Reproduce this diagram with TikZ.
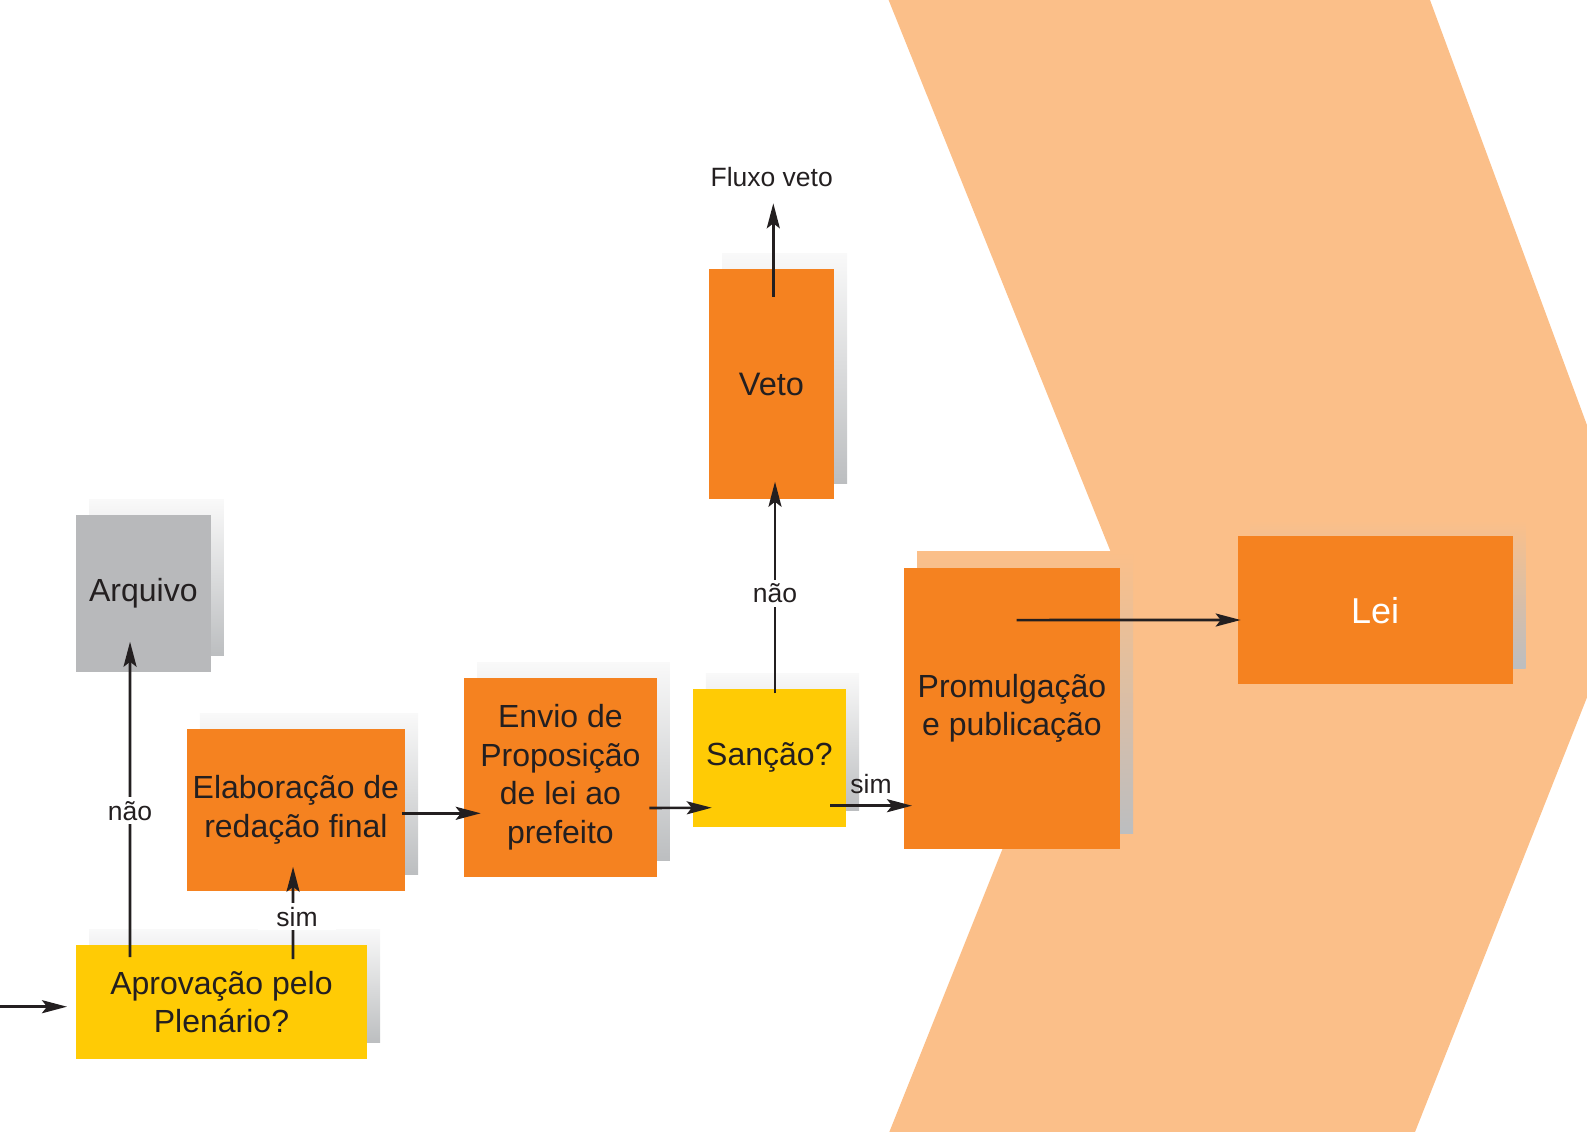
\documentclass[tikz,border=0pt]{standalone}
\usepackage{fontspec}
\setmainfont{Liberation Sans}
\usetikzlibrary{arrows.meta,shadows}
\definecolor{laranja}{RGB}{245,130,32}
\definecolor{amarelo}{RGB}{255,203,5}
\definecolor{cinza}{RGB}{184,185,187}
\definecolor{pessego}{RGB}{251,191,137}
\definecolor{texto}{RGB}{35,31,32}
\definecolor{sombratopo}{RGB}{249,249,249}
\definecolor{sombrabase}{RGB}{188,190,192}
\tikzset{
  caixa/.style={inner sep=0pt, outer sep=0pt, align=center, text=texto,
    font=\fontsize{32}{38.5}\selectfont,
    general shadow={shadow xshift=13pt, shadow yshift=16pt, top color=#1, bottom color=sombrabase}},
  caixa/.default=sombratopo,
  seta/.style={line width=2.6pt, draw=texto, -{Stealth[length=25pt,width=13pt,inset=5pt]}},
  rotulo/.style={fill=white, inner xsep=18pt, inner ysep=4pt, text=texto, font=\fontsize{26.5}{30}\selectfont},
  rotulo2/.style={inner sep=3pt, text=texto, font=\fontsize{26.5}{30}\selectfont},
}
\begin{document}
\begin{tikzpicture}[x=1pt,y=-1pt,line join=round]
\useasboundingbox (0,0) rectangle (1587,1132);
\clip (0,0) rectangle (1587,1132);
\fill[pessego] (888.6,0) -- (1430,0) -- (1639,566) -- (1415,1132) -- (889.3,1132) -- (1116,565) -- cycle;

\node[caixa, fill=cinza, minimum width=134.7pt, minimum height=156.7pt] (arquivo) at (143.4,593.4) {Arquivo};
\node[caixa, fill=amarelo, minimum width=291pt, minimum height=113.7pt] (aprov) at (221.5,1001.9) {Aprovação pelo\\Plenário?};
\node[caixa, fill=laranja, minimum width=218.3pt, minimum height=161.7pt] (elab) at (295.9,809.9) {Elaboração de\\redação final};
\node[caixa, fill=laranja, minimum width=192.7pt, minimum height=198.7pt] (envio) at (560.4,777.4) {Envio de\\Proposição\\de lei ao\\prefeito};
\node[caixa, fill=amarelo, minimum width=153.3pt, minimum height=137.7pt] (sancao) at (769.4,757.9) {Sanção?};
\node[caixa, fill=laranja, minimum width=125pt, minimum height=230.3pt, font=\fontsize{32.5}{38}\selectfont] (veto) at (771.5,384.2) {Veto};
\node[caixa=pessego, fill=laranja, minimum width=216pt, minimum height=281.3pt] (prom) at (1012,708.4) {Promulgação\\e publicação};
\node[caixa=pessego, fill=laranja, minimum width=275pt, minimum height=148.3pt, text=white, font=\fontsize{36}{40}\selectfont] (lei) at (1375.2,610.2) {Lei};
\node[rotulo2] (fluxo) at (771.7,176.7) {Fluxo veto};
\coordinate (entrada) at (0,1006.7);

\draw[seta] (entrada) -- ([xshift=-9pt]entrada -| aprov.west);
\draw[seta] ([xshift=54pt,yshift=-12pt]aprov.north west) -- node[rotulo,pos=0.464]{não} ([xshift=54pt,yshift=30pt]arquivo.south west);
\draw[seta] ([xshift=217pt,yshift=-14pt]aprov.north west) -- node[rotulo,pos=0.46,xshift=4pt]{sim} ([xshift=106.3pt,yshift=24pt]elab.south west);
\draw[seta] ([xshift=-3.3pt,yshift=-3.4pt]elab.east) -- ([xshift=16.7pt,yshift=-35.9pt]envio.west);
\draw[seta] ([xshift=-7.4pt,yshift=-30.6pt]envio.east) -- ([xshift=19pt,yshift=-49.8pt]sancao.west);
\draw[seta] ([xshift=-16pt,yshift=-47.8pt]sancao.east) -- node[rotulo2,above=8pt]{sim} ([xshift=8pt,yshift=-97.3pt]prom.west);
\draw[seta] ([xshift=5.6pt,yshift=-4.3pt]sancao.north) -- node[rotulo,pos=0.473]{não} ([xshift=3.5pt,yshift=17.6pt]veto.south);
\draw[seta] ([xshift=1.8pt,yshift=-27.7pt]veto.north) -- ([xshift=1.6pt,yshift=-13.7pt]fluxo.south);
\draw[seta] ([xshift=4.7pt,yshift=-52.3pt]prom.north) -- ([xshift=3pt,yshift=-9.8pt]lei.west);
\end{tikzpicture}
\end{document}
